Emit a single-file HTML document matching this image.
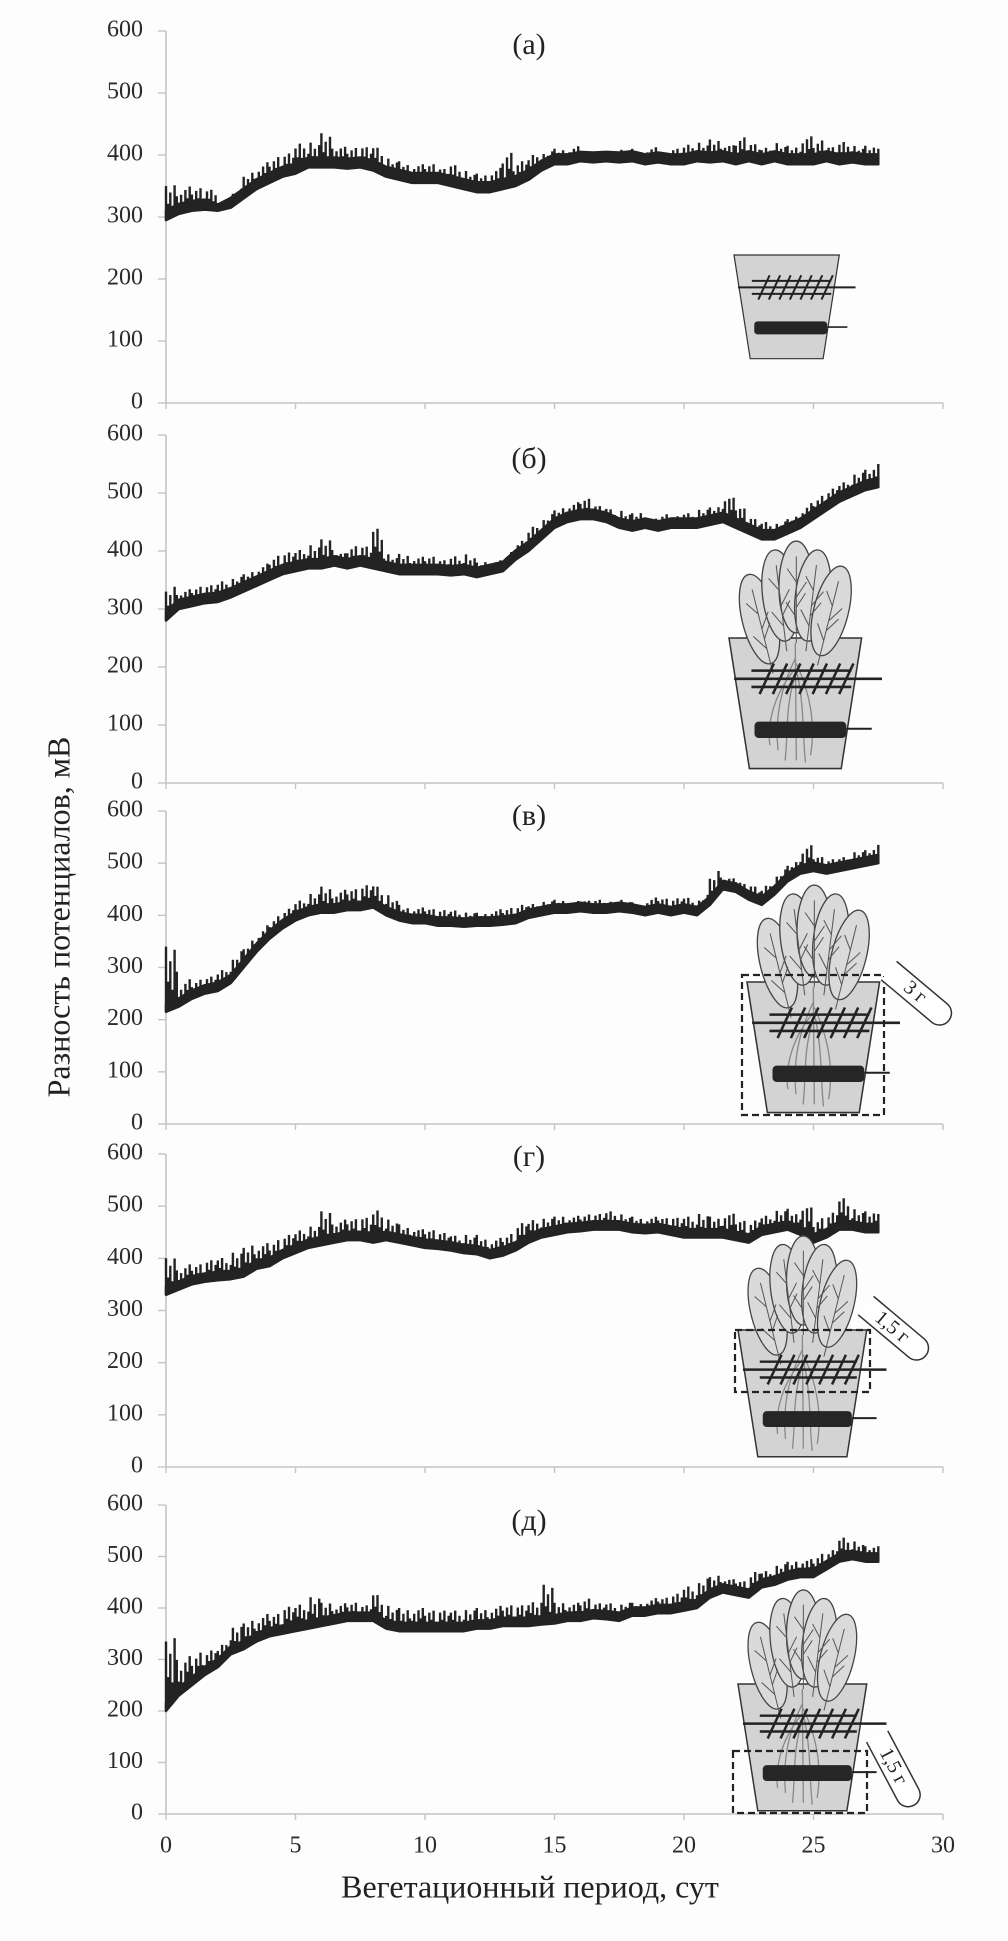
<!DOCTYPE html>
<html><head><meta charset="utf-8">
<style>
html,body{margin:0;padding:0;background:#fff;}
svg{display:block;font-family:"Liberation Serif","DejaVu Serif",serif;}
</style></head>
<body>
<svg id="chart" width="1008" height="1941" viewBox="0 0 1008 1941" xmlns="http://www.w3.org/2000/svg">
<rect x="0" y="0" width="1008" height="1941" fill="#fdfdfe"/>
<text x="62" y="917" font-size="32" fill="#222" text-anchor="middle" dominant-baseline="middle" transform="rotate(-90 62 917)">Разность потенциалов, мВ</text>
<text x="530" y="1890" font-size="32" fill="#222" text-anchor="middle" dominant-baseline="middle">Вегетационный период, сут</text>
</svg>
<script>
// ---- data (days sampled every 0.5; lower/upper envelope of noisy signal, mV) ----
const panelLabels = ["(а)","(б)","(в)","(г)","(д)"];
const yTicks = [0,100,200,300,400,500,600];
const xTicks = [0,5,10,15,20,25,30];
const dayStep = 0.5;
const loA = [295,305,310,312,310,315,330,345,355,365,370,380,380,380,378,380,375,365,360,355,355,355,350,345,340,340,345,350,360,375,385,385,390,388,390,388,390,385,388,385,385,390,388,390,385,390,385,390,385,385,385,390,385,388,385,385];
const hiA = [350,345,345,345,320,335,365,380,390,400,415,420,435,415,410,415,415,395,390,385,385,380,385,375,370,375,400,385,395,400,410,410,405,405,405,408,410,410,405,410,415,420,425,420,425,420,410,420,415,430,420,415,420,415,415,410];
const loB = [280,300,305,310,312,320,330,340,350,360,365,370,370,375,370,375,370,365,360,360,360,360,358,360,355,360,365,385,400,420,440,450,455,455,450,440,435,440,435,440,440,440,445,450,440,430,420,420,430,440,455,470,485,495,505,510];
const hiB = [330,330,335,340,345,350,360,370,385,395,400,410,420,400,405,410,440,395,395,390,390,385,390,395,380,380,385,410,435,450,470,480,490,480,475,470,465,460,460,460,465,470,475,500,480,460,450,445,455,470,485,500,515,530,540,550];
const loC = [215,225,240,250,255,270,300,330,355,375,390,400,405,405,410,410,415,400,390,385,385,380,380,378,380,380,382,385,395,400,405,405,408,405,405,408,405,400,405,400,405,400,420,450,445,430,420,440,465,480,485,480,485,490,495,500];
const hiC = [340,265,270,280,290,310,335,360,385,405,425,440,455,445,450,455,460,440,420,415,415,410,410,405,405,410,412,415,420,425,430,425,430,430,425,430,425,430,435,430,435,425,470,475,470,460,450,470,495,530,515,505,510,520,525,535];
const loD = [330,340,350,355,358,360,365,380,385,400,410,420,425,430,435,435,430,435,430,425,420,418,415,410,408,400,405,415,430,440,445,450,452,455,455,455,450,448,450,445,440,440,440,440,435,430,445,450,455,445,430,440,455,455,450,450];
const hiD = [400,380,385,395,400,410,420,425,425,440,450,460,490,470,475,480,490,475,465,460,455,450,445,445,445,435,440,460,470,475,480,480,482,485,490,485,480,478,480,480,480,485,480,490,475,465,480,490,495,510,470,480,515,495,490,485];
const loE = [200,230,250,270,285,310,320,335,345,350,355,360,365,370,375,375,375,360,355,355,355,355,355,355,360,360,365,365,365,368,370,375,375,380,378,375,385,385,390,390,395,400,420,430,425,420,440,445,455,460,460,475,490,495,490,490];
const hiE = [335,290,300,310,320,360,370,380,385,400,405,420,410,405,410,405,430,405,400,400,395,395,395,395,400,400,405,405,410,445,410,410,415,410,410,405,410,415,420,425,440,445,460,460,455,460,470,480,490,495,495,505,535,530,520,520];
const lows = [loA,loB,loC,loD,loE];
const highs = [hiA,hiB,hiC,hiD,hiE];

// ---- layout / rendering style ----
const NS = "http://www.w3.org/2000/svg";
const svg = document.getElementById("chart");
const X0 = 166, X30 = 943;
const panelTop = [31,435,811,1154,1505];
const panelBottom = [403,783,1124,1467,1814];
const titleY = [47,461,818,1159,1523];
const BAND = 16;                    // visual thickness of the dense band (mV)
const SPIKE_FRAC = [1,0.45,0.75,0.3,0.9,0.55]; // rendering pattern of spikes within a step
function xScale(d){ return X0 + d*(X30-X0)/30; }
function yScale(p,v){ return panelBottom[p] - v/600*(panelBottom[p]-panelTop[p]); }
function mk(tag, attrs, parent){
  const e = document.createElementNS(NS, tag);
  for (const k in attrs) e.setAttribute(k, attrs[k]);
  (parent||svg).appendChild(e);
  return e;
}

for (let p=0;p<5;p++){
  const g = mk("g",{});
  
  
  const ya = mk("line",{x1:X0,y1:panelTop[p],x2:X0,y2:panelBottom[p],stroke:"#c4c4c4","stroke-width":1.6},g);
  
  
  const xa = mk("line",{x1:X0,y1:panelBottom[p],x2:X30,y2:panelBottom[p],stroke:"#c4c4c4","stroke-width":1.6},g);
  
  
  yTicks.forEach(v=>{
    const y = yScale(p,v);
    const t = mk("line",{x1:X0-8,y1:y,x2:X0,y2:y,stroke:"#c4c4c4","stroke-width":1.4},g);
    
    
    const l = mk("text",{x:143,y:y,"font-size":24,fill:"#2a2a2a","text-anchor":"end","dominant-baseline":"middle"},g);
    l.textContent = v;
    
    
  });
  xTicks.forEach(v=>{
    const x = xScale(v);
    const t = mk("line",{x1:x,y1:panelBottom[p],x2:x,y2:panelBottom[p]+6,stroke:"#c4c4c4","stroke-width":1.4},g);
    
    
  });
  const tt = mk("text",{x:529,y:titleY[p],"font-size":30,fill:"#222","text-anchor":"middle","dominant-baseline":"middle"},g);
  tt.textContent = panelLabels[p];
  
  
  const lo = lows[p], hi = highs[p];
  let top = "", bot = "";
  for (let i=0;i<lo.length;i++){
    const x = xScale(i*dayStep).toFixed(1);
    const t = Math.min(hi[i], lo[i]+BAND);
    top += (i===0?"M":"L") + x + "," + yScale(p,t).toFixed(1);
    bot = "L" + x + "," + yScale(p,lo[i]).toFixed(1) + bot;
  }
  const band = mk("path",{d:top+bot+"Z",fill:"#232323",stroke:"#232323","stroke-width":2.5,"stroke-linejoin":"round"},g);
  
  
  let sp = "";
  const n = SPIKE_FRAC.length;
  for (let i=0;i<lo.length-1;i++){
    for (let k=0;k<n;k++){
      const f = k/n;
      const x = xScale((i+f)*dayStep);
      const base = lo[i] + (lo[i+1]-lo[i])*f;
      const tip = base + (hi[i]-lo[i])*SPIKE_FRAC[(k+i)%n];
      sp += "M" + x.toFixed(1) + "," + yScale(p,base).toFixed(1) + "L" + x.toFixed(1) + "," + yScale(p,tip).toFixed(1);
    }
  }
  const last = lo.length-1;
  sp += "M" + xScale(last*dayStep).toFixed(1) + "," + yScale(p,lo[last]).toFixed(1) + "L" + xScale(last*dayStep).toFixed(1) + "," + yScale(p,hi[last]).toFixed(1);
  const spikes = mk("path",{d:sp,fill:"none",stroke:"#232323","stroke-width":2.4},g);
  
  
}
xTicks.forEach(v=>{
  const l = mk("text",{x:xScale(v),y:1847,"font-size":24,fill:"#2a2a2a","text-anchor":"middle","dominant-baseline":"middle"});
  l.textContent = v;
  
  
});

// ---- pot illustrations ----
function drawPot(tx,ty,s,leaves){
  const g = mk("g",{transform:"translate("+tx+","+ty+") scale("+s+")"});
  
  
  mk("path",{d:"M0,0 L130,0 L110,128 L20,128 Z",fill:"#d3d3d3",stroke:"#333","stroke-width":1.5},g);
  if (leaves){
    const leafDefs = [[-28,42,-40],[-14,56,-62],[0,66,-70],[14,76,-62],[28,88,-48]];
    leafDefs.forEach(l=>{
      mk("ellipse",{cx:0,cy:-40,rx:17,ry:45,fill:"#dadada",stroke:"#444","stroke-width":1.3,transform:"translate("+l[1]+","+(l[2]+70)+") rotate("+(l[0]*0.5)+") translate(0,-10)"},g);
    });
    leafDefs.forEach(l=>{
      mk("path",{d:"M0,5 L0,-80 M0,-20 L-10,-35 M0,-40 L10,-55 M0,-55 L-9,-68 M0,-30 L9,-44",fill:"none",stroke:"#555","stroke-width":1,transform:"translate("+l[1]+","+(l[2]+70)+") rotate("+(l[0]*0.5)+")"},g);
    });
    mk("path",{d:"M65,5 L66,120 M65,20 C50,50 45,80 48,110 M66,25 C80,55 85,85 80,115 M64,40 C55,70 58,95 55,120 M67,35 C74,70 72,95 75,122 M65,30 C40,60 38,90 40,105",fill:"none",stroke:"#888","stroke-width":1.3},g);
  }
  mk("path",{d:"M22,32 L120,32 M5,40 L150,40 M22,48 L120,48",stroke:"#222","stroke-width":2.5,fill:"none"},g);
  let h="";
  for(let i=0;i<7;i++){ const x=30+i*13; h+="M"+x+",55 L"+(x+14)+",25 "; }
  mk("path",{d:h,stroke:"#222","stroke-width":2.5,fill:"none"},g);
  mk("rect",{x:25,y:82,width:90,height:16,rx:4,fill:"#262626"},g);
  mk("line",{x1:115,y1:89,x2:140,y2:89,stroke:"#222","stroke-width":2},g);
  return g;
}
function drawTube(cx,cy,ang,label){
  const g = mk("g",{transform:"translate("+cx+","+cy+") rotate("+ang+")"});
  
  
  mk("path",{d:"M-38,-12 L28,-12 A12,12 0 0 1 28,12 L-38,12",fill:"#fff",stroke:"#333","stroke-width":1.5},g);
  const t = mk("text",{x:-4,y:1,"font-size":20,fill:"#222","text-anchor":"middle","dominant-baseline":"middle"},g);
  t.textContent = label;
  
  
}
function dashBox(x,y,w,h){
  const r = mk("rect",{x:x,y:y,width:w,height:h,fill:"none",stroke:"#222","stroke-width":2.2,"stroke-dasharray":"7,4"});
  
  
}
drawPot(734,255,0.81,false);
drawPot(729,638,1.02,true);
drawPot(747,982,1.02,true);
dashBox(742,975,142,140);
drawTube(918,995,40,"3 г");
drawPot(738,1330,0.99,true);
dashBox(735,1330,135,62);
drawTube(895,1330,40,"1,5 г");
drawPot(738,1684,0.99,true);
dashBox(733,1751,134,62);
drawTube(895,1770,62,"1,5 г");
</script>
</body></html>
